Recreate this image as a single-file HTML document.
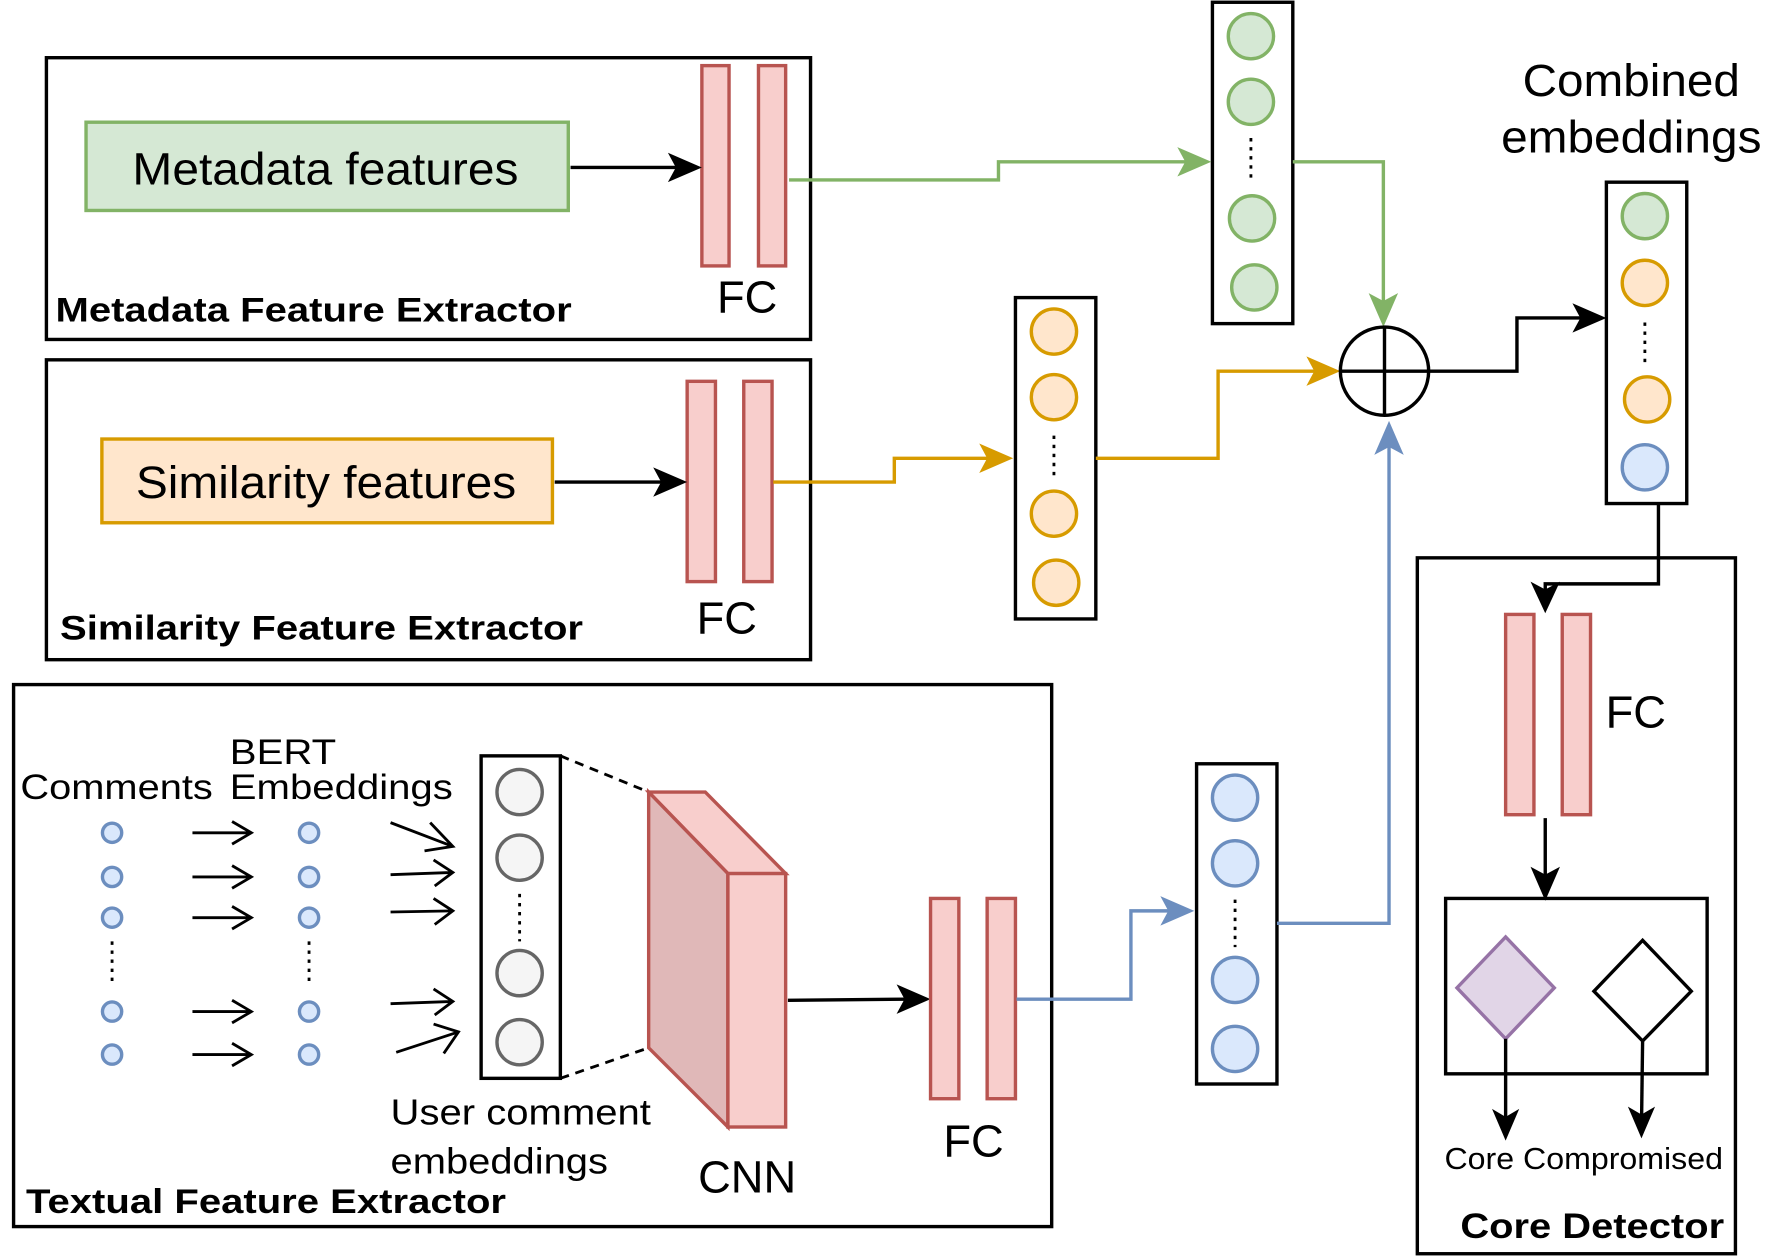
<!DOCTYPE html>
<html><head><style>html,body{margin:0;padding:0;background:#fff}svg{display:block}</style></head><body>
<svg width="1766" height="1256" viewBox="0 0 1560 1110" preserveAspectRatio="none" xmlns="http://www.w3.org/2000/svg" font-family="Liberation Sans, Arial, sans-serif">
<style>
.b{fill:none;stroke:#000;stroke-width:3}
.fc{fill:#f8cecc;stroke:#b85450;stroke-width:3}
.bl{fill:#dae8fc;stroke:#6c8ebf;stroke-width:3}
.gr{fill:#d5e8d4;stroke:#82b366;stroke-width:3}
.or{fill:#ffe6cc;stroke:#d79b00;stroke-width:3}
.gy{fill:#f5f5f5;stroke:#666;stroke-width:3}
</style>
<!-- Metadata -->
<rect x="41" y="51" width="675" height="249" class="b"/>
<rect x="76" y="108" width="426" height="78" class="gr"/>
<text x="117" y="163" font-size="40" textLength="341" lengthAdjust="spacingAndGlyphs">Metadata features</text>
<rect x="620" y="58" width="24" height="177" class="fc"/><rect x="670" y="58" width="24" height="177" class="fc"/>
<text x="660" y="276" font-size="40" text-anchor="middle">FC</text>
<text x="49" y="284" font-size="30" font-weight="bold" textLength="456" lengthAdjust="spacingAndGlyphs">Metadata Feature Extractor</text>
<!-- Similarity -->
<rect x="41" y="318" width="675" height="265" class="b"/>
<rect x="90" y="388" width="398" height="74" class="or"/>
<text x="120" y="440" font-size="40" textLength="336" lengthAdjust="spacingAndGlyphs">Similarity features</text>
<rect x="607" y="337" width="25" height="177" class="fc"/><rect x="657" y="337" width="25" height="177" class="fc"/>
<text x="642" y="560" font-size="40" text-anchor="middle">FC</text>
<text x="53" y="565" font-size="30" font-weight="bold" textLength="462" lengthAdjust="spacingAndGlyphs">Similarity Feature Extractor</text>
<!-- Textual -->
<rect x="12" y="605" width="917" height="479" class="b"/>
<text x="18" y="706" font-size="31" textLength="170" lengthAdjust="spacingAndGlyphs">Comments</text>
<text x="203" y="675" font-size="31" textLength="94" lengthAdjust="spacingAndGlyphs">BERT</text>
<text x="203" y="706" font-size="31" textLength="197" lengthAdjust="spacingAndGlyphs">Embeddings</text>
<g class="bl" stroke-width="2.5">
<circle cx="99" cy="736" r="8.5"/><circle cx="99" cy="775" r="8.5"/><circle cx="99" cy="811" r="8.5"/><circle cx="99" cy="894" r="8.5"/><circle cx="99" cy="932" r="8.5"/>
<circle cx="273" cy="736" r="8.5"/><circle cx="273" cy="775" r="8.5"/><circle cx="273" cy="811" r="8.5"/><circle cx="273" cy="894" r="8.5"/><circle cx="273" cy="932" r="8.5"/>
</g>
<g stroke="#000" stroke-width="2.5" stroke-dasharray="3,5"><line x1="99" y1="832" x2="99" y2="870"/><line x1="273" y1="832" x2="273" y2="870"/><line x1="459" y1="790" x2="459" y2="832"/><line x1="1091" y1="795" x2="1091" y2="837"/><line x1="931" y1="385" x2="931" y2="425"/><line x1="1105" y1="122" x2="1105" y2="162"/><line x1="1453" y1="285" x2="1453" y2="322"/></g>
<g fill="none" stroke="#000" stroke-width="2.5">
<path d="M170,736 H220 M205,726 L222,736 L205,746"/>
<path d="M170,775 H220 M205,765 L222,775 L205,785"/>
<path d="M170,811 H220 M205,801 L222,811 L205,821"/>
<path d="M170,894 H220 M205,884 L222,894 L205,904"/>
<path d="M170,932 H220 M205,922 L222,932 L205,942"/>
<path d="M345,727 L400,748 M380,727 L400,748 L375,752"/>
<path d="M345,773 L400,771 M383,760 L400,771 L384,783"/>
<path d="M345,806 L400,805 M383,794 L400,805 L384,817"/>
<path d="M345,887 L400,885 M383,874 L400,885 L384,897"/>
<path d="M350,930 L405,912 M383,905 L405,912 L392,931"/>
</g>
<rect x="425" y="668" width="70" height="285" class="b"/>
<circle cx="459" cy="700" r="20" class="gy"/><circle cx="459" cy="758" r="20" class="gy"/><circle cx="459" cy="860" r="20" class="gy"/><circle cx="459" cy="921" r="20" class="gy"/>
<g stroke="#000" stroke-width="2.5" stroke-dasharray="8,6"><line x1="495" y1="668" x2="573" y2="700"/><line x1="495" y1="953" x2="573" y2="926"/></g>
<polygon points="573,700 623,700 694,772 643,772" fill="#f8cecc" stroke="#b85450" stroke-width="3"/>
<polygon points="573,700 643,772 643,996 573,926" fill="#e0b8b8" stroke="#b85450" stroke-width="3"/>
<rect x="643" y="772" width="51" height="224" class="fc"/>
<text x="660" y="1054" font-size="40" text-anchor="middle">CNN</text>
<line x1="696" y1="884" x2="800" y2="883" stroke="#000" stroke-width="3"/>
<path d="M822,883 L792,870 L799,883 L792,896 z" fill="#000"/>
<rect x="822" y="794" width="25" height="177" class="fc"/><rect x="872" y="794" width="25" height="177" class="fc"/>
<text x="860" y="1022" font-size="40" text-anchor="middle">FC</text>
<text x="345" y="994" font-size="32" textLength="230" lengthAdjust="spacingAndGlyphs">User comment</text>
<text x="345" y="1037" font-size="32" textLength="192" lengthAdjust="spacingAndGlyphs">embeddings</text>
<text x="23" y="1072" font-size="30" font-weight="bold" textLength="424" lengthAdjust="spacingAndGlyphs">Textual Feature Extractor</text>
<!-- black arrows in boxes -->
<line x1="504" y1="148" x2="600" y2="148" stroke="#000" stroke-width="3"/>
<path d="M620,148 L590,135 L597,148 L590,161 z" fill="#000"/>
<line x1="490" y1="426" x2="588" y2="426" stroke="#000" stroke-width="3"/>
<path d="M607,426 L577,413 L584,426 L577,439 z" fill="#000"/>
<!-- blue -->
<rect x="1057" y="675" width="71" height="283" class="b"/>
<circle cx="1091" cy="705" r="20" class="bl"/><circle cx="1091" cy="763" r="20" class="bl"/><circle cx="1091" cy="866" r="20" class="bl"/><circle cx="1091" cy="927" r="20" class="bl"/>
<polyline points="898,883 999,883 999,805 1045,805" fill="none" stroke="#6c8ebf" stroke-width="3"/>
<path d="M1055,805 L1025,792 L1032,805 L1025,818 z" fill="#6c8ebf"/>
<polyline points="1128,816 1227,816 1227,385" fill="none" stroke="#6c8ebf" stroke-width="3"/>
<path d="M1227,372 L1214,402 L1227,395 L1240,402 z" fill="#6c8ebf"/>
<!-- orange -->
<rect x="897" y="263" width="71" height="284" class="b"/>
<circle cx="931" cy="293" r="20" class="or"/><circle cx="931" cy="351" r="20" class="or"/><circle cx="931" cy="454" r="20" class="or"/><circle cx="933" cy="515" r="20" class="or"/>
<polyline points="683,426 790,426 790,405 885,405" fill="none" stroke="#d79b00" stroke-width="3"/>
<path d="M895,405 L865,392 L872,405 L865,418 z" fill="#d79b00"/>
<polyline points="968,405 1076,405 1076,328 1175,328" fill="none" stroke="#d79b00" stroke-width="3"/>
<path d="M1184,328 L1154,315 L1161,328 L1154,341 z" fill="#d79b00"/>
<!-- green -->
<rect x="1071" y="2" width="71" height="284" class="b"/>
<circle cx="1105" cy="32" r="20" class="gr"/><circle cx="1105" cy="90" r="20" class="gr"/><circle cx="1106" cy="193" r="20" class="gr"/><circle cx="1108" cy="254" r="20" class="gr"/>
<polyline points="697,159 882,159 882,143 1060,143" fill="none" stroke="#82b366" stroke-width="3"/>
<path d="M1070,143 L1040,130 L1047,143 L1040,156 z" fill="#82b366"/>
<polyline points="1142,143 1222,143 1222,280" fill="none" stroke="#82b366" stroke-width="3"/>
<path d="M1222,289 L1209,259 L1222,266 L1235,259 z" fill="#82b366"/>
<!-- plus -->
<circle cx="1223" cy="328" r="39" fill="#fff" stroke="#000" stroke-width="3"/>
<line x1="1184" y1="328" x2="1262" y2="328" stroke="#000" stroke-width="3"/><line x1="1223" y1="289" x2="1223" y2="367" stroke="#000" stroke-width="3"/>
<polyline points="1263,328 1340,328 1340,281 1410,281" fill="none" stroke="#000" stroke-width="3"/>
<path d="M1419,281 L1389,268 L1396,281 L1389,294 z" fill="#000"/>
<text x="1441" y="85" font-size="40" text-anchor="middle" textLength="192" lengthAdjust="spacingAndGlyphs">Combined</text>
<text x="1441" y="135" font-size="40" text-anchor="middle" textLength="230" lengthAdjust="spacingAndGlyphs">embeddings</text>
<rect x="1419" y="161" width="71" height="284" class="b"/>
<circle cx="1453" cy="191" r="20" class="gr"/><circle cx="1453" cy="250" r="20" class="or"/><circle cx="1455" cy="353" r="20" class="or"/><circle cx="1453" cy="413" r="20" class="bl"/>
<!-- core detector -->
<rect x="1252" y="493" width="281" height="615" class="b"/>
<polyline points="1465,445 1465,516 1365,516 1365,535" fill="none" stroke="#000" stroke-width="3"/>
<path d="M1365,542 L1352,514 L1365,521 L1378,514 z" fill="#000"/>
<rect x="1330" y="543" width="25" height="177" class="fc"/><rect x="1380" y="543" width="25" height="177" class="fc"/>
<text x="1445" y="643" font-size="40" text-anchor="middle">FC</text>
<line x1="1365" y1="723" x2="1365" y2="785" stroke="#000" stroke-width="3"/>
<path d="M1365,796 L1352,766 L1365,773 L1378,766 z" fill="#000"/>
<rect x="1277" y="794" width="231" height="155" class="b"/>
<polygon points="1330,828 1373,873 1330,918 1287,873" fill="#e1d5e7" stroke="#9673a6" stroke-width="3"/>
<polygon points="1451,831 1494,876 1451,920 1408,876" fill="#fff" stroke="#000" stroke-width="3"/>
<line x1="1330" y1="918" x2="1330" y2="998" stroke="#000" stroke-width="3"/>
<path d="M1330,1008 L1318,980 L1330,987 L1342,980 z" fill="#000"/>
<line x1="1451" y1="920" x2="1450" y2="996" stroke="#000" stroke-width="3"/>
<path d="M1450,1006 L1438,978 L1450,985 L1462,978 z" fill="#000"/>
<text x="1276" y="1033" font-size="27" textLength="246" lengthAdjust="spacingAndGlyphs">Core Compromised</text>
<text x="1290" y="1094" font-size="31" font-weight="bold" textLength="233" lengthAdjust="spacingAndGlyphs">Core Detector</text>
</svg>
</body></html>
